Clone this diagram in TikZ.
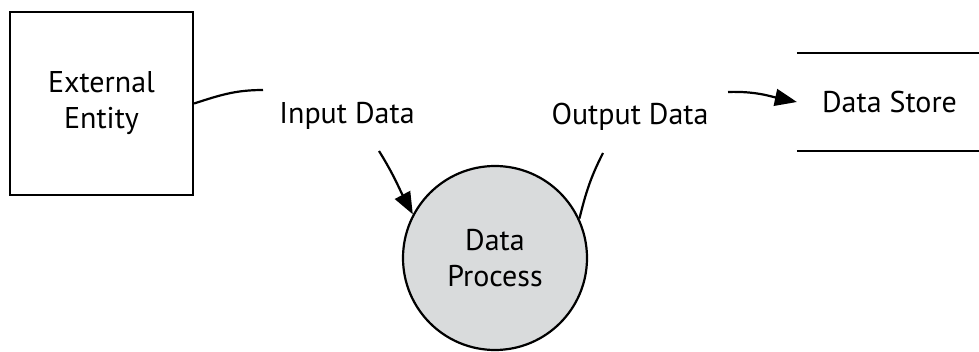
\documentclass[tikz,border=0pt]{standalone}
\usepackage{fontspec}
\setmainfont{PT Sans}
\usetikzlibrary{arrows.meta,shapes.geometric}
\definecolor{procgray}{RGB}{217,219,220}
\begin{document}
\begin{tikzpicture}[x=1pt,y=1pt,>={Triangle[length=22pt,width=17pt]},
	line width=2.2pt,
	lbl/.style={font=\fontsize{30}{36}\selectfont,align=center,inner sep=0pt},
	entity/.style={draw,minimum width=183pt,minimum height=183pt,lbl},
	proc/.style={circle,draw,fill=procgray,minimum size=184pt,lbl},
	storebox/.style={minimum width=183pt,minimum height=96pt,lbl}]
			\useasboundingbox (0,0) rectangle (979,351);
			\node[entity] (ext) at (101.5,247.5) {External\\Entity};
			\node[proc] (proc) at (495,93) {Data\\Process};
			\node[storebox] (store) at (889.5,249) {Data Store};
			\draw (store.north west) -- (store.north east);
			\draw (store.south west) -- (store.south east);
			\node[lbl] (indata) at (347,235) {Input Data};
			\node[lbl] (outdata) at (630,234) {Output Data};
			\coordinate (inend) at (263,261);
			\coordinate (instart) at (379,200);
			\coordinate (outend) at (603,198);
			\coordinate (outstart) at (728,259);
			\draw (ext.east) to[out=18,in=180] (inend);
			\draw[->] (instart) to[out=-58,in=118] (proc.152);
			\draw (proc.25) to[out=76,in=243] (outend);
			\draw[->] (outstart) to[out=2,in=168] (store.west);
		\end{tikzpicture}
\end{document}
